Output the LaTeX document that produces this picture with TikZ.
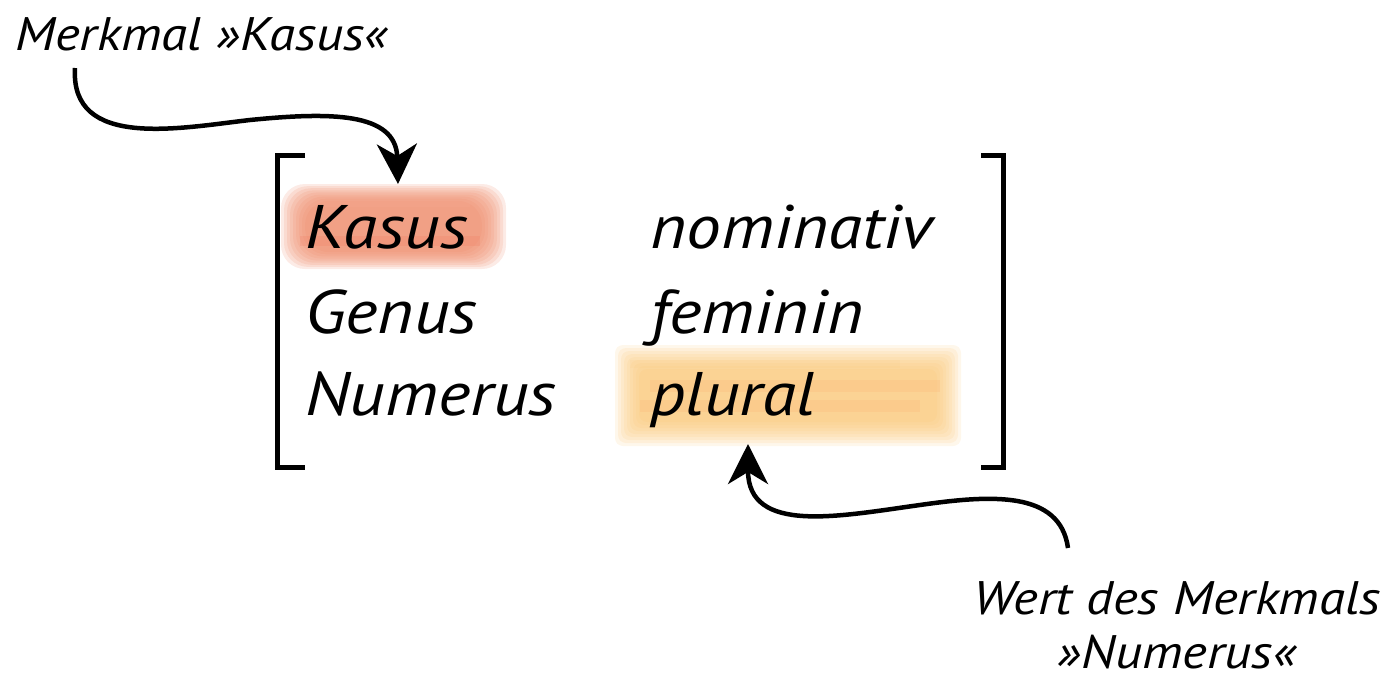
\documentclass[tikz,border=0pt]{standalone}
\usepackage{fontspec}
\setmainfont[FakeStretch=1.13]{PT Sans}
\usetikzlibrary{arrows.meta}
\begin{document}
\begin{tikzpicture}[x=1pt,y=-1pt,
  entry/.style={font=\fontsize{61.5}{72}\selectfont\itshape, inner sep=0pt, anchor=base west},
  note/.style={font=\fontsize{47}{55}\selectfont\itshape, inner sep=0pt},
  brace/.style={line width=5pt},
  pointer/.style={line width=4.5pt, -{Stealth[length=40pt,width=40pt,inset=12pt]}},
  hl/.style={draw=none, inner sep=0pt},
]
\definecolor{salmon}{RGB}{238,138,105}
\definecolor{amber}{RGB}{250,196,112}
\useasboundingbox (0,0) rectangle (1395,680);

% brush-like highlight behind "Kasus"
\node[hl, minimum width=225pt, minimum height=85pt] (hlk) at (392,226) {};
\begin{scope}[fill opacity=0.17]
  \foreach \d in {0,3,...,24}
    \fill[salmon, rounded corners=24pt] (281+\d,184+\d*0.7) rectangle (506-\d,269-\d*0.7);
  \fill[salmon!80!red] (300,236) rectangle (480,246);
  \fill[salmon!70!white] (310,200) rectangle (470,207);
\end{scope}

% brush-like highlight behind "plural"
\node[hl, minimum width=345pt, minimum height=100pt] (hlp) at (787,395) {};
\begin{scope}[fill opacity=0.14]
  \foreach \d in {0,3,...,24}
    \fill[amber, rounded corners=8pt] (615+\d,345+\d) rectangle (961-\d,446-\d);
  \fill[amber!80!red] (650,380) rectangle (940,392);
  \fill[amber!80!red] (640,400) rectangle (920,412);
  \fill[amber!90!white] (630,360) rectangle (900,368);
\end{scope}

% feature structure
\node[entry] (f1) at (305,248) {Kasus};
\node[entry] (f2) at (305,333) {Genus};
\node[entry] (f3) at (305,415) {Numerus};
\node[entry] (v1) at (650,248) {nominativ};
\node[entry] (v2) at (650,333) {feminin};
\node[entry] (v3) at (650,415) {plural};

% square brackets
\draw[brace] (305,155) -| (277,467) -- (305,467);
\draw[brace] (981,155) -| (1003,467) -- (981,467);

% annotations
\node[note, anchor=base west] (lk) at (15,50) {Merkmal »Kasus«};
\node[note, anchor=base] (lp) at (1177,614) {Wert des Merkmals};
\node[note, anchor=base] (lp2) at (1177,668) {»Numerus«};

\coordinate (s1) at (75,68);
\coordinate (t1) at (398,184);
\coordinate (s2) at (1068,548);
\coordinate (t2) at (748,444);

\draw[pointer] (s1) .. controls (70,150) and (180,128) .. (250,120)
  .. controls (330,112) and (396,112) .. (t1);
\draw[pointer] (s2) .. controls (1060,490) and (990,495) .. (920,505)
  .. controls (840,516) and (748,535) .. (t2);
\end{tikzpicture}
\end{document}
